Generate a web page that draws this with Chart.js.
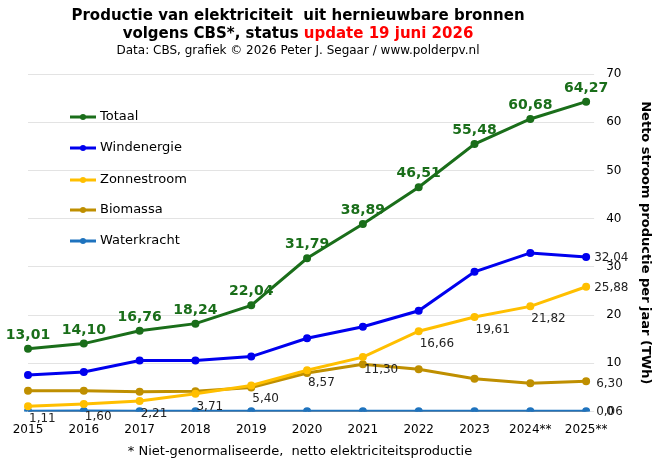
<!DOCTYPE html>
<html><head><meta charset="utf-8">
<script src="https://cdn.jsdelivr.net/npm/chart.js@4.4.0/dist/chart.umd.min.js"></script>
<style>body{margin:0;background:#fff}#wrap{width:661px;height:465px}</style>
</head><body><div id="wrap"><canvas id="c"></canvas></div>
<script>
const years = ["2015","2016","2017","2018","2019","2020","2021","2022","2023","2024**","2025**"];
const totaal = [13.01,14.10,16.76,18.24,22.04,31.79,38.89,46.51,55.48,60.68,64.27];
const wind = [7.6,8.2,10.6,10.6,11.4,15.2,17.6,20.9,29.0,32.9,32.04];
const zon = [1.11,1.60,2.21,3.71,5.40,8.57,11.30,16.66,19.61,21.82,25.88];
const bio = [4.3,4.3,4.1,4.2,5.0,8.0,9.8,8.8,6.8,5.9,6.30];
const water = [0.09,0.1,0.06,0.07,0.08,0.05,0.08,0.05,0.07,0.06,0.06];
const names = ["Totaal","Windenergie","Zonnestroom","Biomassa","Waterkracht"];
const colors = ["#1a6e1a","#0000ee","#ffbf00","#bf8f00","#1e73be"];
const fmt = v => v.toFixed(2).replace(".", ",");

const overlay = {
  id: "overlay",
  afterDraw(chart) {
    const ctx = chart.ctx, x = chart.scales.x, y = chart.scales.y;
    ctx.save();
    // title
    ctx.fillStyle = "#000";
    ctx.textAlign = "center";
    ctx.font = "bold 15px 'DejaVu Sans'";
    ctx.fillText("Productie van elektriciteit  uit hernieuwbare bronnen", 298, 20);
    const a = "volgens CBS*, status ", b = "update 19 juni 2026";
    const wa = ctx.measureText(a).width, wb = ctx.measureText(b).width;
    ctx.textAlign = "left";
    const sx = 298 - (wa + wb) / 2;
    ctx.fillText(a, sx, 38);
    ctx.fillStyle = "#ff0000";
    ctx.fillText(b, sx + wa, 38);
    ctx.fillStyle = "#000";
    ctx.textAlign = "center";
    ctx.font = "12px 'DejaVu Sans'";
    ctx.fillText("Data: CBS, grafiek \u00a9 2026 Peter J. Segaar / www.polderpv.nl", 298, 54);
    ctx.font = "13px 'DejaVu Sans'";
    ctx.fillText("* Niet-genormaliseerde,  netto elektriciteitsproductie", 300, 455);
    // legend
    const ly = [117, 148, 180, 210, 241];
    names.forEach((n, i) => {
      ctx.strokeStyle = colors[i]; ctx.lineWidth = 3;
      ctx.beginPath(); ctx.moveTo(70, ly[i]); ctx.lineTo(96, ly[i]); ctx.stroke();
      ctx.fillStyle = colors[i];
      ctx.beginPath(); ctx.arc(83, ly[i], 3, 0, Math.PI * 2); ctx.fill();
      ctx.fillStyle = "#000"; ctx.textAlign = "left"; ctx.textBaseline = "middle";
      ctx.font = "13px 'DejaVu Sans'";
      ctx.fillText(n, 100, ly[i]);
    });
    // labels
    ctx.textBaseline = "alphabetic";
    ctx.font = "bold 14px 'DejaVu Sans'";
    ctx.fillStyle = "#1a6e1a"; ctx.textAlign = "center";
    totaal.forEach((v, i) => ctx.fillText(fmt(v), x.getPixelForValue(i), y.getPixelForValue(v) - 10));
    ctx.font = "12px 'DejaVu Sans'"; ctx.fillStyle = "#222"; ctx.textAlign = "left";
    zon.forEach((v, i) => {
      if (i === 10) ctx.fillText(fmt(v), x.getPixelForValue(i) + 8, y.getPixelForValue(v) + 4);
      else ctx.fillText(fmt(v), x.getPixelForValue(i) + 1, y.getPixelForValue(v) + 16);
    });
    const last = 10, lx = x.getPixelForValue(last) + 8;
    ctx.fillText(fmt(wind[last]), lx, y.getPixelForValue(wind[last]) + 4);
    ctx.fillText(fmt(bio[last]), lx + 2, y.getPixelForValue(bio[last]) + 6);
    ctx.fillText(fmt(water[last]), lx + 2, y.getPixelForValue(water[last]) + 4);
    ctx.restore();
  }
};

const series = [totaal, wind, zon, bio, water];
new Chart(document.getElementById("c"), {
  type: "line",
  data: {
    labels: years,
    datasets: series.map((d, i) => ({
      label: names[i], data: d, borderColor: colors[i], backgroundColor: colors[i],
      borderWidth: 3, pointRadius: 2.5, tension: 0, order: i === 4 ? 5 : i
    }))
  },
  options: {
    responsive: true, maintainAspectRatio: false, animation: false,
    layout: { padding: { top: 74, left: 28, right: 4, bottom: 25 } },
    plugins: { legend: { display: false }, tooltip: { enabled: false } },
    scales: {
      x: {
        offset: false,
        grid: { display: false },
        border: { color: "#999" },
        ticks: { color: "#000", font: { size: 12, family: "DejaVu Sans" }, maxRotation: 0, autoSkip: false }
      },
      y: {
        position: "right", min: 0, max: 70,
        grid: { color: "#e3e3e3" },
        border: { display: false },
        ticks: { stepSize: 10, color: "#000", padding: 12, font: { size: 12, family: "DejaVu Sans" } },
        title: { display: true, text: "Netto stroom productie per jaar (TWh)", color: "#000",
                 font: { size: 13, weight: "bold", family: "DejaVu Sans" } }
      }
    }
  },
  plugins: [overlay]
});
</script></body></html>
